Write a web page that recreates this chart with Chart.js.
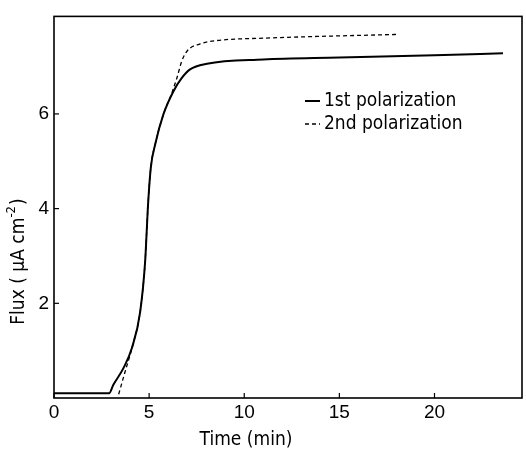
<!DOCTYPE html>
<html>
<head>
<meta charset="utf-8">
<script src="https://cdn.jsdelivr.net/npm/chart.js@4.4.1/dist/chart.umd.min.js"></script>
<style>
  body { margin: 0; background: #fff; }
</style>
</head>
<body>
<canvas id="fluxChart" width="526" height="456"></canvas>
<script>
// valori
const solidTime = [0, 2.9, 3.12, 3.65, 4.09, 4.53, 4.79, 4.88, 4.93, 5.09, 5.32, 5.75, 6.28, 6.7, 7.15, 8.04, 11, 15, 20, 23.6];
const solidFlux = [0.1, 0.1, 0.28, 0.63, 1.05, 1.82, 2.88, 3.58, 3.99, 4.87, 5.36, 5.99, 6.48, 6.75, 6.94, 7.06, 7.15, 7.19, 7.24, 7.28];
const dashedTime = [3.4, 3.74, 4.0, 4.2, 4.53, 4.79, 4.88, 4.93, 5.09, 5.32, 5.75, 6.2, 6.46, 6.72, 7.0, 7.68, 8.56, 11, 18.1];
const dashedFlux = [0.08, 0.56, 0.91, 1.2, 1.82, 2.88, 3.58, 3.99, 4.87, 5.36, 5.99, 6.45, 6.76, 7.12, 7.33, 7.48, 7.55, 7.6, 7.68];
const seriesLabels = ["1st polarization", "2nd polarization"];
const xTicks = [0, 5, 10, 15, 20];
const yTicks = [2, 4, 6];

const numFont = "19px 'Liberation Sans', Arial, sans-serif";
const textFont = "19px 'Liberation Sans Narrow', 'DejaVu Sans Condensed', sans-serif";

function toPoints(xs, ys) {
    return xs.map((x, i) => ({ x: x, y: ys[i] }));
}

// cornice, tacche interne, titoli e legenda
const framePlugin = {
    id: "frame",
    afterDraw(chart) {
        const { ctx, chartArea: a, scales } = chart;
        ctx.save();
        ctx.strokeStyle = "#000";
        ctx.lineWidth = 1.6;
        ctx.strokeRect(a.left, a.top, a.right - a.left, a.bottom - a.top);

        ctx.lineWidth = 1.2;
        xTicks.forEach(v => {
            const px = scales.x.getPixelForValue(v);
            ctx.beginPath();
            ctx.moveTo(px, a.bottom);
            ctx.lineTo(px, a.bottom - 5);
            ctx.stroke();
        });
        yTicks.forEach(v => {
            const py = scales.y.getPixelForValue(v);
            ctx.beginPath();
            ctx.moveTo(a.left, py);
            ctx.lineTo(a.left + 5, py);
            ctx.stroke();
        });

        ctx.fillStyle = "#000";
        ctx.font = textFont;
        ctx.textBaseline = "middle";
        ctx.textAlign = "center";
        ctx.fillText("Time (min)", 246, 440);

        // titolo asse y con apice
        ctx.save();
        ctx.translate(19, 262);
        ctx.rotate(-Math.PI / 2);
        ctx.textAlign = "left";
        const main = "Flux ( μA cm";
        const wMain = ctx.measureText(main).width;
        ctx.font = "13px 'Liberation Sans Narrow', 'DejaVu Sans Condensed', sans-serif";
        const wSup = ctx.measureText("-2").width;
        ctx.font = textFont;
        const wEnd = ctx.measureText(")").width;
        const start = -(wMain + wSup + wEnd) / 2;
        ctx.fillText(main, start, 0);
        ctx.font = "13px 'Liberation Sans Narrow', 'DejaVu Sans Condensed', sans-serif";
        ctx.fillText("-2", start + wMain, -7);
        ctx.font = textFont;
        ctx.fillText(")", start + wMain + wSup + 1, 0);
        ctx.restore();

        // legenda
        chart.data.datasets.forEach((ds, i) => {
            const y = 101 + i * 23;
            ctx.beginPath();
            ctx.lineWidth = ds.borderWidth;
            ctx.setLineDash(ds.borderDash || []);
            ctx.moveTo(305, y);
            ctx.lineTo(320, y);
            ctx.stroke();
            ctx.setLineDash([]);
            ctx.textAlign = "left";
            ctx.fillText(ds.label, 324, y);
        });
        ctx.restore();
    }
};

new Chart(document.getElementById("fluxChart"), {
    type: "line",
    data: {
        datasets: [
            {
                label: seriesLabels[0],
                data: toPoints(solidTime, solidFlux),
                borderColor: "#000",
                borderWidth: 2,
                pointRadius: 0,
                cubicInterpolationMode: "monotone",
                fill: false
            },
            {
                label: seriesLabels[1],
                data: toPoints(dashedTime, dashedFlux),
                borderColor: "#000",
                borderWidth: 1.3,
                borderDash: [4, 3],
                pointRadius: 0,
                cubicInterpolationMode: "monotone",
                fill: false
            }
        ]
    },
    options: {
        responsive: false,
        animation: false,
        layout: { padding: { top: 15, right: 4, left: 0, bottom: 0 } },
        plugins: {
            legend: { display: false },
            tooltip: { enabled: false }
        },
        scales: {
            x: {
                type: "linear",
                min: 0,
                max: 24.6,
                afterFit(scale) { scale.height = 58; },
                afterBuildTicks(scale) { scale.ticks = xTicks.map(v => ({ value: v })); },
                grid: { display: false, drawTicks: false },
                border: { display: false },
                ticks: {
                    color: "#000",
                    padding: 3,
                    maxRotation: 0,
                    font: { family: "'Liberation Sans', Arial, sans-serif", size: 19 }
                }
            },
            y: {
                min: 0,
                max: 8.06,
                afterFit(scale) { scale.width = 54; },
                afterBuildTicks(scale) { scale.ticks = yTicks.map(v => ({ value: v })); },
                grid: { display: false, drawTicks: false },
                border: { display: false },
                ticks: {
                    color: "#000",
                    padding: 5,
                    font: { family: "'Liberation Sans', Arial, sans-serif", size: 19 }
                }
            }
        }
    },
    plugins: [framePlugin]
});
</script>
</body>
</html>
